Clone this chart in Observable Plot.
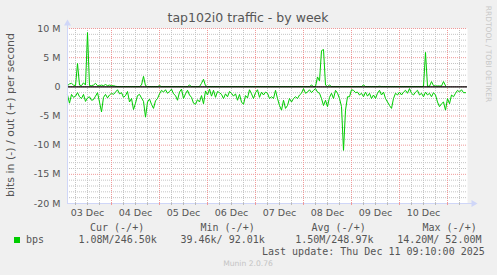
<!DOCTYPE html>
<html><head><meta charset="utf-8">
<script src="https://cdn.jsdelivr.net/npm/d3@7"></script>
<script src="https://cdn.jsdelivr.net/npm/@observablehq/plot@0.6"></script>
<style>
html,body{margin:0;padding:0;background:#f0f0f0;}
#wrap{position:relative;width:497px;height:275px;overflow:hidden;background:#f0f0f0;font-family:"DejaVu Sans",sans-serif;color:#555;}
#wrap svg{position:absolute;left:0;top:0;}
.t{position:absolute;white-space:pre;line-height:1;}
.mono{font-family:"DejaVu Sans Mono",monospace;}
</style></head><body>
<div id="wrap"></div>
<script>
// ---- text ----
const title = "tap102i0 traffic - by week";
const yAxisTitle = "bits in (-) / out (+) per second";
const legendName = "bps";
const statHeaders = ["Cur (-/+)", "Min (-/+)", "Avg (-/+)", "Max (-/+)"];
const statValues = ["1.08M/246.50k", "39.46k/ 92.01k", "1.50M/248.97k", "14.20M/ 52.00M"];
const lastUpdate = "Last update: Thu Dec 11 09:10:00 2025";
const watermark = "RRDTOOL / TOBI OETIKER";
const footer = "Munin 2.0.76";

// ---- time axis ----
const startTime = Date.UTC(2025, 11, 3, 2, 0);
const endTime = Date.UTC(2025, 11, 11, 10, 0);
const stepHours = 1;
const xTickDays = [3, 4, 5, 6, 7, 8, 9, 10];
const xTickLabels = ["03 Dec", "04 Dec", "05 Dec", "06 Dec", "07 Dec", "08 Dec", "09 Dec", "10 Dec"];

// ---- y axis (millions of bits/s) ----
const yDomain = [-20, 10];
const yTickValues = [-20, -15, -10, -5, 0, 5, 10];
const yTickLabels = ["-20 M", "-15 M", "-10 M", "-5 M", "0", "5 M", "10 M"];

// ---- series (M bits/s), hourly from start ----
// in (-): magnitudes, drawn negative
const inMag = [
1.4,2.8,1.3,1.8,1.6,1.0,1.7,2.0,1.3,2.5,
1.9,1.7,2.3,2.2,1.6,1.0,2.6,4.3,1.8,1.3,
1.9,1.4,1.1,1.3,0.9,0.5,1.2,1.0,1.8,1.5,
0.8,2.6,2.0,3.9,2.8,1.5,1.3,1.9,2.5,5.2,
2.6,2.1,3.0,3.7,2.4,2.0,1.2,0.6,0.9,0.5,
1.1,0.8,0.4,1.2,1.5,2.3,0.9,0.4,2.0,1.2,
0.6,1.4,1.8,2.8,3.0,2.2,2.6,1.5,2.9,0.7,
1.4,0.4,1.6,0.6,1.8,0.8,1.0,1.3,2.0,1.2,
1.7,0.8,1.1,1.6,1.2,2.3,1.3,2.6,3.0,1.5,
1.9,0.5,1.2,2.0,1.0,0.5,1.8,0.9,1.4,0.9,
1.1,2.0,1.7,2.0,0.6,2.0,3.2,4.0,2.3,3.7,
3.2,2.0,2.6,2.0,1.7,2.0,1.4,1.1,0.3,1.1,
0.9,0.5,1.0,0.6,0.3,0.9,1.1,2.0,3.2,2.3,
3.4,1.8,1.1,2.0,0.6,1.1,2.0,3.4,10.9,4.0,
1.7,1.7,0.5,0.6,1.0,0.9,1.4,1.1,1.7,0.9,
1.6,1.1,2.0,1.4,2.0,1.1,0.6,1.4,0.9,2.0,
2.6,3.2,3.7,2.0,1.1,1.4,0.9,1.4,0.9,0.6,
1.1,0.3,1.1,1.4,0.9,0.6,1.4,1.1,1.7,0.9,
1.4,1.1,1.7,1.0,1.4,2.6,3.4,2.9,2.6,4.0,
2.0,2.9,1.4,1.7,1.1,0.6,0.9,0.5,1.0,1.0
];
// out (+)
const outVal = [
0.2,0.5,0.6,0.3,0.2,4.0,0.3,0.2,0.7,0.3,
9.3,0.2,0.2,0.3,0.6,0.2,0.2,0.3,0.2,0.4,
0.2,0.3,0.2,0.2,0.1,0.05,0.05,0.05,0.05,0.05,
0.05,0.05,0.05,0.05,0.05,0.05,0.05,0.3,1.8,0.2,
0.05,0.05,0.05,0.05,0.05,0.05,0.2,0.05,0.05,0.05,
0.05,0.05,0.05,0.05,0.05,0.05,0.05,0.05,0.05,0.05,
0.05,0.3,0.05,0.05,0.05,0.05,0.05,0.6,1.3,0.2,
0.05,0.05,0.05,0.05,0.05,0.05,0.05,0.05,0.05,0.05,
0.05,0.05,0.05,0.05,0.05,0.05,0.05,0.05,0.05,0.05,
0.05,0.05,0.05,0.05,0.05,0.05,0.05,0.05,0.05,0.05,
0.05,0.05,0.05,0.05,0.05,0.05,0.05,0.05,0.05,0.05,
0.05,0.05,0.05,0.05,0.05,0.05,0.05,0.05,0.05,0.05,
0.05,0.05,0.3,0.05,0.05,1.7,1.0,6.2,6.4,0.3,
0.05,0.3,0.05,0.05,0.05,0.05,0.05,0.05,0.05,0.05,
0.05,0.05,0.05,0.05,0.05,0.05,0.05,0.05,0.3,0.05,
0.05,0.05,0.05,0.05,0.05,0.05,0.1,0.05,0.05,0.05,
0.05,0.05,0.05,0.05,0.05,0.05,0.05,0.05,0.05,0.05,
0.05,0.05,0.05,0.05,0.05,0.05,0.05,0.05,0.1,5.9,
0.1,0.1,0.9,0.2,0.15,0.15,0.15,0.15,0.9,0.2
];

// ---- build ----
const rows = inMag.map((v, i) => ({
  t: new Date(startTime + i * stepHours * 3600e3),
  inV: -v,
  outV: outVal[i]
}));
const t0 = new Date(startTime), t1 = new Date(endTime);
const minorX = d3.utcHour.every(6).range(t0, t1).filter(d => d.getUTCHours() !== 0);
const majorX = d3.utcDay.range(new Date(startTime + 1), t1);
const allX = d3.utcHour.every(6).range(t0, t1);
const minorY = d3.range(yDomain[0], yDomain[1] + 0.001, 1).filter(v => v % 5 !== 0);
const majorY = yTickValues.filter(v => v !== yDomain[0]);
const labelDates = xTickDays.map(d => new Date(Date.UTC(2025, 11, d, 12)));

const AX = "#cfd6f8";
const chart = Plot.plot({
  width: 497, height: 275,
  marginLeft: 67, marginRight: 30, marginTop: 28, marginBottom: 72,
  style: {background: "transparent", fontFamily: "DejaVu Sans, sans-serif", fontSize: "9.5px", color: "#555"},
  x: {type: "utc", domain: [t0, t1], label: null},
  y: {domain: yDomain, label: null},
  marks: [
    Plot.frame({fill: "white", stroke: "none"}),
    Plot.ruleY(minorY, {stroke: "#c4c4c4", strokeDasharray: "1,1"}),
    Plot.ruleX(minorX, {stroke: "#c4c4c4", strokeDasharray: "1,1"}),
    Plot.ruleY(majorY, {stroke: "#f09a9a", strokeDasharray: "1,1"}),
    Plot.ruleX(majorX, {stroke: "#f09a9a", strokeDasharray: "1,1"}),
    Plot.line(rows, {x: "t", y: "inV", stroke: "#00cc00", strokeWidth: 1}),
    Plot.line(rows, {x: "t", y: "outV", stroke: "#00cc00", strokeWidth: 1}),
    Plot.ruleY([0], {stroke: "#000", strokeWidth: 1.3}),
    Plot.ruleX([t0], {stroke: AX, insetTop: -5}),
    Plot.ruleY([yDomain[0]], {stroke: AX, insetRight: -6}),
    Plot.dot([{t: t0, v: yDomain[1]}], {x: "t", y: "v", symbol: "triangle", r: 2.6, fill: AX, stroke: "none", dy: -5}),
    Plot.dot([{t: t1, v: yDomain[0]}], {x: "t", y: "v", symbol: "triangle", r: 2.6, fill: AX, stroke: "none", rotate: 90, dx: 6}),
    Plot.axisX(minorX, {tickSize: 2, stroke: "#bbbbbb", tickFormat: () => "", label: null}),
    Plot.axisX(majorX, {tickSize: 2, stroke: "#f09a9a", tickFormat: () => "", label: null}),
    Plot.axisX(labelDates, {tickSize: 0, tickPadding: 6, tickFormat: d => xTickLabels[labelDates.findIndex(e => +e === +d)], label: null}),
    Plot.axisY(yTickValues, {tickSize: 0, tickPadding: 7, tickFormat: d => yTickLabels[yTickValues.indexOf(d)], label: null})
  ]
});
const wrap = document.getElementById("wrap");
wrap.appendChild(chart);

function place(text, x, baseline, size, opts = {}) {
  const el = document.createElement("div");
  el.className = "t" + (opts.mono ? " mono" : "");
  el.textContent = text;
  el.style.fontSize = size + "px";
  el.style.left = x + "px";
  el.style.top = (baseline - 0.846 * size) + "px";
  if (opts.color) el.style.color = opts.color;
  if (opts.anchor === "middle") el.style.transform = "translateX(-50%)";
  wrap.appendChild(el);
  return el;
}
function placeRot(text, cx, cy, size, deg, color) {
  const el = document.createElement("div");
  el.className = "t";
  el.textContent = text;
  el.style.fontSize = size + "px";
  el.style.left = cx + "px";
  el.style.top = cy + "px";
  el.style.transform = `translate(-50%,-50%) rotate(${deg}deg)`;
  if (color) el.style.color = color;
  wrap.appendChild(el);
}

place(title, 248, 23, 12.5, {anchor: "middle"});
placeRot(yAxisTitle, 10, 115, 11, -90);
placeRot(watermark, 487.5, 53.5, 7.5, 90, "#c8c8c8");

const sw = document.createElement("div");
Object.assign(sw.style, {position: "absolute", left: "14px", top: "237px", width: "6px", height: "6px", background: "#00cc00"});
wrap.appendChild(sw);
place(legendName, 26, 243.3, 10, {mono: true});
const headerX = [90, 200.5, 311.5, 422.5];
const valueX = [78.5, 180.5, 295.2, 397.2];
statHeaders.forEach((h, i) => place(h, headerX[i], 231, 10, {mono: true}));
statValues.forEach((v, i) => place(v, valueX[i], 243.3, 10, {mono: true}));
place(lastUpdate, 262, 255, 10, {mono: true});
place(footer, 248, 266.7, 7.6, {anchor: "middle", color: "#c4c4c4"});
</script>
</body></html>
